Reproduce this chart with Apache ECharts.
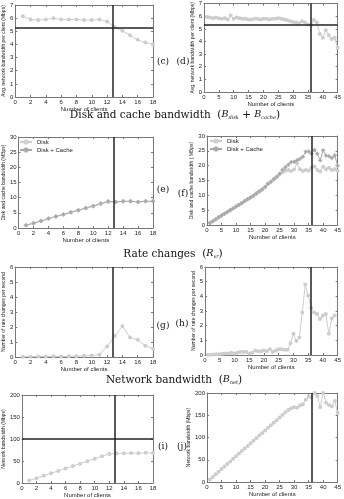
<!DOCTYPE html>
<html><head><meta charset="utf-8">
<script src="https://cdn.jsdelivr.net/npm/echarts@6/dist/echarts.min.js"></script>
<style>html,body{margin:0;padding:0;background:#fff}#c{width:344px;height:499px}</style>
</head><body><div id="c"></div>
<script>
// ---- data ----
const xShort = [1,2,3,4,5,6,7,8,9,10,11,12,13,14,15,16,17,18];
const xLong = [];
for (let i = 1; i <= 45; i++) xLong.push(i);
const xLong44 = xLong.slice(0, 44);

const avgBwShort = [6.15,5.9,5.85,5.9,6.0,5.9,5.9,5.9,5.85,5.85,5.9,5.75,5.3,5.05,4.7,4.35,4.15,4.0];
const avgBwLong = [5.95,5.9,5.85,5.9,5.85,5.8,5.85,5.75,6.05,5.8,5.9,5.85,5.8,5.8,5.75,5.75,5.8,5.8,5.75,5.8,5.8,5.75,5.8,5.8,5.85,5.8,5.75,5.7,5.6,5.55,5.5,5.45,5.6,5.5,5.35,5.3,5.7,5.5,4.6,4.3,4.9,4.5,4.2,4.3,3.5];

const diskShort = [0.9,1.6,2.3,3.1,3.8,4.4,5.1,5.8,6.5,7.1,7.9,8.6,8.6,8.8,8.8,8.6,8.8,8.8];
const diskCacheShort = [0.9,1.6,2.3,3.1,3.8,4.5,5.2,5.9,6.6,7.3,8.1,8.8,8.6,8.8,8.8,8.6,8.8,8.8];

const diskLong = [0.7,1.3,1.9,2.6,3.2,3.8,4.4,5.0,5.6,6.2,6.8,7.4,8.1,8.7,9.3,9.9,10.6,11.3,12.0,12.8,14.0,14.6,15.3,16.1,17.0,17.8,18.3,18.5,18.2,18.7,20.8,18.8,18.2,18.5,18.4,19.3,19.7,18.5,18.0,19.6,18.8,19.2,18.5,18.8,18.2];
const diskCacheLong = [0.7,1.3,1.9,2.6,3.2,3.8,4.4,5.0,5.6,6.2,6.8,7.4,8.1,8.7,9.3,9.9,10.6,11.3,12.0,12.8,13.8,14.6,15.5,16.3,17.3,18.6,19.5,20.3,21.2,21.3,21.8,22.3,23.0,24.7,24.8,24.0,25.3,24.0,21.8,25.2,23.4,23.2,22.6,23.5,20.0];

const rateShort = [0.02,0.02,0.03,0.03,0.05,0.03,0.05,0.05,0.08,0.1,0.15,0.7,1.4,2.05,1.3,1.15,0.75,0.55];
const rateLong = [0.02,0.02,0.03,0.05,0.05,0.08,0.1,0.1,0.15,0.1,0.15,0.2,0.2,0.2,0.1,0.15,0.3,0.25,0.25,0.3,0.25,0.4,0.2,0.3,0.4,0.4,0.35,0.35,0.8,1.45,0.95,1.2,2.9,4.8,4.05,3.2,2.9,2.8,2.45,2.7,2.8,1.45,2.5,2.7];

const netShort = [5.5,11,16.5,22,27.5,33,38.5,44,49.5,55,61,66,67,67.5,68,67.5,68.5,68];
const netLong = [5.5,11.5,17.3,23,29,34.8,40.5,46.3,52,58,63.8,69.5,75.3,81,87,92.8,98.5,104.3,110,116,121.8,127.5,133.3,139,145,150.8,156.5,162,166,168,167,172,175,185,192,190,200,193,168,200,178,173,170,182,155];

const vLineLeft = 12.8, vLineRight = 36;
const hLineAvg = 5.3, hLineNet = 100;

const xTicksShort = {min:0, max:18, interval:2};
const xTicksLong = {min:0, max:45, interval:5};

const sectionTitles = ['Disk and cache bandwidth', 'Rate changes', 'Network bandwidth'];
const panelTags = ['(c)','(d)','(e)','(f)','(g)','(h)','(i)','(j)'];

// ---- layout ----
const grids = [
  {left:14, top:5, width:139, height:92},
  {left:204, top:3, width:135, height:89},
  {left:15, top:137, width:138, height:91},
  {left:207, top:136, width:132, height:89},
  {left:15, top:267, width:138, height:90},
  {left:205, top:267, width:134, height:88},
  {left:18, top:395, width:135, height:89},
  {left:207, top:393, width:132, height:89}
];
const yConf = [
  {min:0,max:7,interval:1,name:'Avg. network bandwidth per client (Mbps)'},
  {min:0,max:7,interval:1,name:'Avg. network bandwidth per client (Mbps)'},
  {min:0,max:30,interval:5,name:'Disk and cache bandwidth (MBps)'},
  {min:0,max:30,interval:5,name:'Disk and cache bandwidth ( MBps)'},
  {min:0,max:6,interval:1,name:'Number of rate changes per second'},
  {min:0,max:6,interval:1,name:'Number of rate changes per second'},
  {min:0,max:200,interval:50,name:'Network bandwidth (Mbps)'},
  {min:0,max:200,interval:50,name:'Network bandwidth (Mbps)'}
];

const tickFont = {fontSize:6, color:'#222', fontFamily:'Liberation Sans'};
const frame = '#777';
const xAxes = [], yAxes = [];
grids.forEach((g, i) => {
  const xt = (i % 2 === 0) ? xTicksShort : xTicksLong;
  xAxes.push({type:'value', gridIndex:i, min:xt.min, max:xt.max, interval:xt.interval,
    name:'Number of clients', nameLocation:'middle', nameGap:9,
    nameTextStyle:{fontSize:6, color:'#222', fontFamily:'Liberation Sans'},
    axisLine:{show:true, onZero:false, lineStyle:{color:frame, width:1}},
    axisTick:{show:true, inside:true, length:2, lineStyle:{color:frame}},
    axisLabel:Object.assign({margin:2}, tickFont), splitLine:{show:false}});
  xAxes.push({type:'value', gridIndex:i, position:'top', min:xt.min, max:xt.max, interval:xt.interval,
    axisLine:{show:true, onZero:false, lineStyle:{color:frame, width:1}},
    axisTick:{show:true, inside:true, length:2, lineStyle:{color:frame}},
    axisLabel:{show:false}, splitLine:{show:false}});
  const yc = yConf[i];
  yAxes.push({type:'value', gridIndex:i, min:yc.min, max:yc.max, interval:yc.interval,
    name:yc.name, nameLocation:'middle', nameGap:(i>=6?11:7),
    nameTextStyle:{fontSize:5, color:'#222', fontFamily:'Liberation Sans'},
    axisLine:{show:true, onZero:false, lineStyle:{color:frame, width:1}},
    axisTick:{show:true, inside:true, length:2, lineStyle:{color:frame}},
    axisLabel:Object.assign({margin:2}, tickFont), splitLine:{show:false}});
  yAxes.push({type:'value', gridIndex:i, position:'right', min:yc.min, max:yc.max, interval:yc.interval,
    axisLine:{show:true, onZero:false, lineStyle:{color:frame, width:1}},
    axisTick:{show:true, inside:true, length:2, lineStyle:{color:frame}},
    axisLabel:{show:false}, splitLine:{show:false}});
});

function pairs(xs, ys){ return ys.map((v,k)=>[xs[k], v]); }
function mark(v, h){
  const data = [{xAxis:v}];
  if (h !== undefined) data.push({yAxis:h});
  return {silent:true, symbol:'none', label:{show:false}, animation:false,
    lineStyle:{color:'#222', width:1.5, type:'solid'}, data:data};
}
const light = '#cdcdcd', mid = '#a8a8a8';
const plusSym = 'path://M0,3H8V5H0ZM3,0H5V8H3Z';
function ser(idx, name, xs, ys, color, sym, ml){
  const s = {type:'line', name:name, xAxisIndex:idx*2, yAxisIndex:idx*2, data:pairs(xs, ys),
    symbol:sym, symbolSize:(sym===plusSym?3.5:2), showSymbol:true, animation:false,
    lineStyle:{color:color, width:1}, itemStyle:{color:color, borderColor:color, borderWidth:0.6}};
  if (ml) s.markLine = ml;
  return s;
}
const series = [
  ser(0, 'avgS', xShort, avgBwShort, light, 'emptyCircle', mark(vLineLeft, hLineAvg)),
  ser(1, 'avgL', xLong, avgBwLong, light, 'emptyCircle', mark(vLineRight, hLineAvg)),
  ser(2, 'Disk', xShort, diskShort, light, 'emptyCircle', mark(vLineLeft)),
  ser(2, 'Disk + Cache', xShort, diskCacheShort, mid, plusSym),
  ser(3, 'Disk', xLong, diskLong, light, 'emptyCircle', mark(vLineRight)),
  ser(3, 'Disk + Cache', xLong, diskCacheLong, mid, plusSym),
  ser(4, 'rateS', xShort, rateShort, light, 'emptyCircle', mark(vLineLeft)),
  ser(5, 'rateL', xLong44, rateLong, light, 'emptyCircle', mark(vLineRight)),
  ser(6, 'netS', xShort, netShort, light, 'emptyCircle', mark(vLineLeft, hLineNet)),
  ser(7, 'netL', xLong, netLong, light, 'emptyCircle', mark(vLineRight))
];

const legendBase = {data:['Disk','Disk + Cache'], orient:'vertical', itemWidth:12, itemHeight:4,
  itemGap:2, textStyle:{fontSize:6, color:'#222', fontFamily:'Liberation Sans'}, padding:0, selectedMode:false};

const serif = 'DejaVu Serif';
function tagText(t, x, y){ return {type:'text', x:x, y:y, style:{text:t, fontSize:9, fontFamily:serif, fill:'#111', align:'center', verticalAlign:'middle'}}; }
const richStyle = {
  p:{fontSize:10.5, fontFamily:serif, fill:'#111', lineHeight:16, verticalAlign:'middle'},
  b:{fontSize:9.5, fontStyle:'italic', fontFamily:serif, fill:'#111', lineHeight:16, verticalAlign:'middle'},
  s:{fontSize:5, fontStyle:'italic', fontFamily:serif, fill:'#111', lineHeight:8, verticalAlign:'middle', padding:[5,0,0,0]}
};
function title(text, cx, cy){
  return {type:'text', x:cx, y:cy, style:{text:text, rich:richStyle, fontFamily:serif, align:'center', verticalAlign:'middle'}};
}

const chart = echarts.init(document.getElementById('c'), null, {renderer:'canvas'});
chart.setOption({
  animation:false,
  grid: grids.map(g => Object.assign({show:false, containLabel:false}, g)),
  xAxis: xAxes, yAxis: yAxes,
  legend: [
    Object.assign({left:19, top:139}, legendBase),
    Object.assign({left:209, top:138}, legendBase)
  ],
  series: series,
  graphic: [
    tagText(panelTags[0], 163, 62), tagText(panelTags[1], 183, 62),
    tagText(panelTags[2], 163, 190), tagText(panelTags[3], 183, 194),
    tagText(panelTags[4], 163, 326), tagText(panelTags[5], 182, 324),
    tagText(panelTags[6], 163, 447), tagText(panelTags[7], 182, 447),
    title('{p|' + sectionTitles[0] + '  (}{b|B}{s|disk}{p| + }{b|B}{s|cache}{p|)}', 175, 115),
    title('{p|' + sectionTitles[1] + '  (}{b|R}{s|vr}{p|)}', 173, 254),
    title('{p|' + sectionTitles[2] + '  (}{b|B}{s|net}{p|)}', 174, 380)
  ]
});
</script></body></html>
